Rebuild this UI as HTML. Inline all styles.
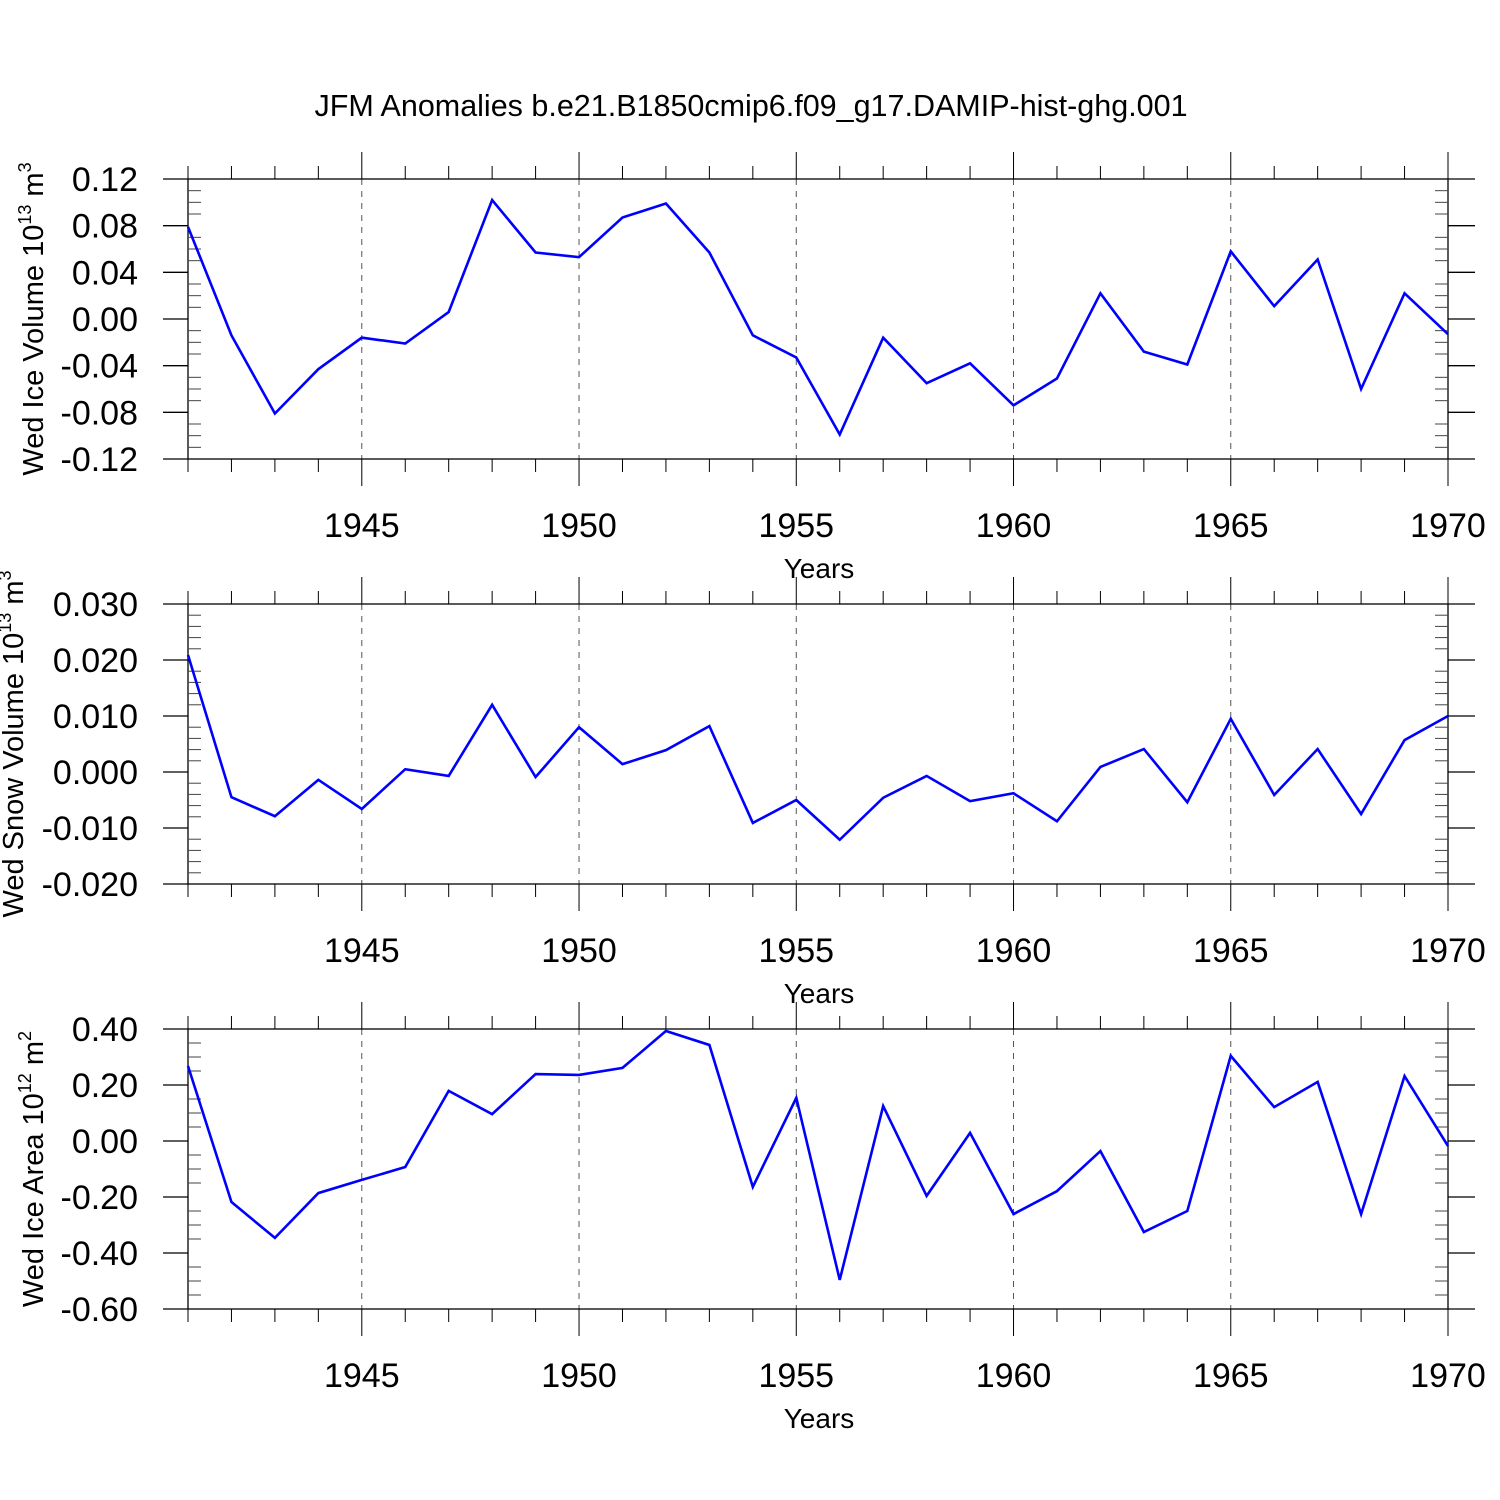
<!DOCTYPE html>
<html><head><meta charset="utf-8"><style>
body{margin:0;background:#fff}
svg{display:block;font-family:"Liberation Sans",sans-serif}
</style></head><body>
<svg id="chart" width="1500" height="1500" viewBox="0 0 1500 1500" xmlns="http://www.w3.org/2000/svg">
<text x="751" y="116" font-size="30.5" text-anchor="middle">JFM Anomalies b.e21.B1850cmip6.f09_g17.DAMIP-hist-ghg.001</text>
</svg>
<script>
const years = [1941,1942,1943,1944,1945,1946,1947,1948,1949,1950,1951,1952,1953,1954,1955,1956,1957,1958,1959,1960,1961,1962,1963,1964,1965,1966,1967,1968,1969,1970];
const iceVolume = [0.079,-0.014,-0.081,-0.043,-0.016,-0.021,0.006,0.102,0.057,0.053,0.087,0.099,0.057,-0.014,-0.033,-0.099,-0.016,-0.055,-0.038,-0.074,-0.051,0.022,-0.028,-0.039,0.058,0.011,0.051,-0.060,0.022,-0.013];
const snowVolume = [0.0209,-0.0045,-0.0079,-0.0014,-0.0066,0.0005,-0.0007,0.012,-0.0009,0.008,0.0014,0.0039,0.0082,-0.0091,-0.005,-0.0121,-0.0046,-0.0007,-0.0052,-0.0038,-0.0088,0.0009,0.0041,-0.0054,0.0095,-0.0041,0.0041,-0.0075,0.0057,0.01];
const iceArea = [0.268,-0.218,-0.346,-0.186,-0.139,-0.093,0.179,0.096,0.239,0.236,0.261,0.393,0.343,-0.164,0.154,-0.496,0.125,-0.196,0.029,-0.261,-0.179,-0.036,-0.325,-0.25,0.304,0.121,0.211,-0.261,0.232,-0.018];
const xTickYears = [1945,1950,1955,1960,1965,1970];
const ticks1 = [0.12,0.08,0.04,0,-0.04,-0.08,-0.12];
const labels1 = ["0.12","0.08","0.04","0.00","-0.04","-0.08","-0.12"];
const ticks2 = [0.03,0.02,0.01,0,-0.01,-0.02];
const labels2 = ["0.030","0.020","0.010","0.000","-0.010","-0.020"];
const ticks3 = [0.4,0.2,0,-0.2,-0.4,-0.6];
const labels3 = ["0.40","0.20","0.00","-0.20","-0.40","-0.60"];

const NS="http://www.w3.org/2000/svg";
const svg=document.getElementById('chart');
function mk(tag,attrs,parent){const e=document.createElementNS(NS,tag);for(const k in attrs)e.setAttribute(k,attrs[k]);(parent||svg).appendChild(e);return e;}
const X0=188,X1=1448;
const xs=y=>X0+(y-1941)*(X1-X0)/(1970-1941);

function panel(name,top,ymax,ymin,ticks,labels,minorN,data,titleParts,titleX){
  const bot=top+280;
  const ys=v=>top+(ymax-v)*(bot-top)/(ymax-ymin);
  const g=mk('g',{});
  
  
  xTickYears.forEach(yr=>{ if(yr<1970){const l=mk('line',{x1:xs(yr),x2:xs(yr),y1:top,y2:bot,stroke:'#555','stroke-width':1,'stroke-dasharray':'6,6'},g);
    
    }});
  const fr=mk('rect',{x:X0,y:top,width:X1-X0,height:280,fill:'none',stroke:'#000','stroke-width':1.3},g);
  
  
  years.forEach(yr=>{const maj=yr%5===0;const len=maj?27:13;const x=xs(yr);
    mk('line',{x1:x,x2:x,y1:top-len,y2:top,stroke:'#000','stroke-width':1},g);
    mk('line',{x1:x,x2:x,y1:bot,y2:bot+len,stroke:'#000','stroke-width':1},g);});
  ticks.forEach((t,i)=>{const y=ys(t);
    mk('line',{x1:X0-25,x2:X0,y1:y,y2:y,stroke:'#000','stroke-width':1.3},g);
    mk('line',{x1:X1,x2:X1+27,y1:y,y2:y,stroke:'#000','stroke-width':1.3},g);
    const tx=mk('text',{x:138,y:y+12,'font-size':34,'text-anchor':'end'},g);tx.textContent=labels[i];
    
    
    if(i<ticks.length-1){const step=(ticks[i+1]-t)/(minorN+1);
      for(let k=1;k<=minorN;k++){const my=ys(t+step*k);
        mk('line',{x1:X0,x2:X0+13,y1:my,y2:my,stroke:'#444','stroke-width':1},g);
        mk('line',{x1:X1-13,x2:X1,y1:my,y2:my,stroke:'#444','stroke-width':1},g);}}
  });
  xTickYears.forEach(yr=>{const tx=mk('text',{x:xs(yr),y:bot+78,'font-size':34,'text-anchor':'middle'},g);tx.textContent=yr;
    
    });
  const xt=mk('text',{x:819,y:bot+119,'font-size':28,'text-anchor':'middle'},g);xt.textContent='Years';
  
  
  const cy=top+140;
  const yt=mk('text',{x:0,y:0,'font-size':29,'text-anchor':'middle',transform:`translate(${titleX},${cy}) rotate(-90)`},g);
  
  
  titleParts.forEach(p=>{const s=mk('tspan',{},yt);s.textContent=p[0];
    if(p[1]){s.setAttribute('dy',p[1]);}
    if(p[2]){s.setAttribute('font-size','18');}});
  const pts=data.map((v,i)=>xs(years[i])+','+ys(v)).join(' ');
  const pl=mk('polyline',{points:pts,fill:'none',stroke:'#0000ff','stroke-width':2.6,'stroke-linejoin':'miter'},g);
  
  
}
panel('ice-volume',179,0.12,-0.12,ticks1,labels1,3,iceVolume,[['Wed Ice Volume 10',0,0],['13',-12,1],[' m',12,0],['3',-12,1]],43);
panel('snow-volume',604,0.03,-0.02,ticks2,labels2,4,snowVolume,[['Wed Snow Volume 10',0,0],['13',-12,1],[' m',12,0],['3',-12,1]],23);
panel('ice-area',1029,0.4,-0.6,ticks3,labels3,3,iceArea,[['Wed Ice Area 10',0,0],['12',-12,1],[' m',12,0],['2',-12,1]],43);
</script>
</body></html>
